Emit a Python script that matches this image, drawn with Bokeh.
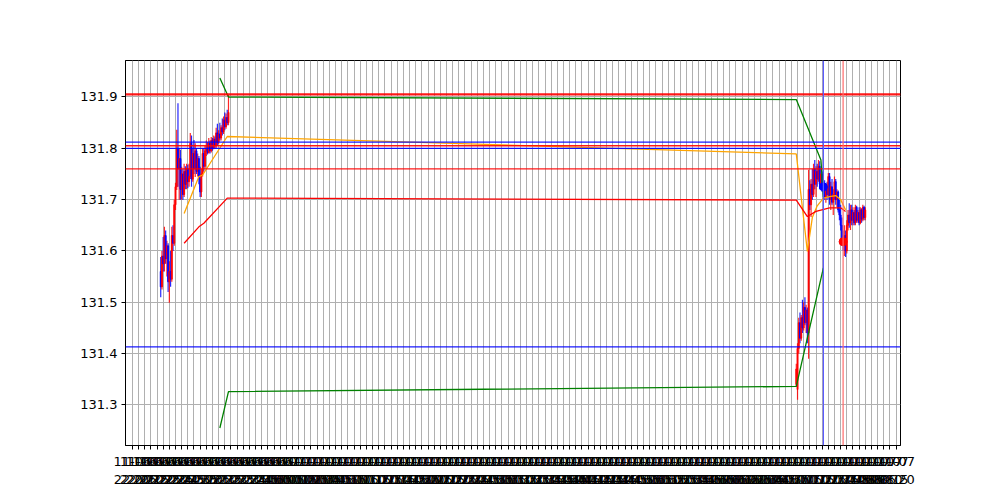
import pandas as pd
from bokeh.plotting import figure
from bokeh.models import FixedTicker, Range1d, Span, ColumnDataSource
from bokeh.embed import file_html
from bokeh.resources import INLINE

# ---- time axis (minutes after the first tick) ----
tick_origin = "2022-11-06 22:00"
tick_step_min = 5
tick_count = 125

# ---- candles: left cluster (minutes 23..78) ----
left_minutes = list(range(23, 79))
left_open = [131.560, 131.530, 131.590, 131.575, 131.630, 131.585, 131.610, 131.540, 131.560, 131.545,
             131.630, 131.615, 131.690, 131.725, 131.800, 131.760, 131.780, 131.720, 131.750, 131.710,
             131.755, 131.730, 131.760, 131.735, 131.745, 131.810, 131.740, 131.790, 131.760, 131.795,
             131.755, 131.780, 131.740, 131.715, 131.750, 131.790, 131.765, 131.795, 131.800, 131.792,
             131.810, 131.795, 131.815, 131.800, 131.818, 131.805, 131.830, 131.812, 131.828, 131.820,
             131.840, 131.832, 131.855, 131.842, 131.860, 131.850]
left_high = [131.588, 131.600, 131.627, 131.647, 131.640, 131.620, 131.615, 131.580, 131.600, 131.647,
             131.650, 131.700, 131.733, 131.836, 131.888, 131.800, 131.797, 131.764, 131.760, 131.770,
             131.765, 131.770, 131.768, 131.770, 131.830, 131.825, 131.800, 131.816, 131.810, 131.800,
             131.790, 131.785, 131.764, 131.760, 131.800, 131.800, 131.805, 131.815, 131.812, 131.820,
             131.815, 131.822, 131.820, 131.825, 131.823, 131.840, 131.848, 131.835, 131.850, 131.845,
             131.858, 131.862, 131.870, 131.868, 131.875, 131.904]
left_low = [131.510, 131.525, 131.560, 131.560, 131.575, 131.550, 131.520, 131.499, 131.530, 131.540,
            131.600, 131.610, 131.680, 131.719, 131.725, 131.700, 131.700, 131.700, 131.700, 131.705,
            131.720, 131.720, 131.722, 131.725, 131.740, 131.725, 131.735, 131.750, 131.744, 131.750,
            131.745, 131.730, 131.705, 131.705, 131.745, 131.755, 131.760, 131.785, 131.788, 131.790,
            131.790, 131.792, 131.795, 131.798, 131.800, 131.800, 131.805, 131.808, 131.815, 131.815,
            131.825, 131.828, 131.835, 131.838, 131.845, 131.845]
left_close = [131.530, 131.590, 131.575, 131.630, 131.585, 131.610, 131.540, 131.560, 131.545, 131.630,
              131.615, 131.690, 131.725, 131.800, 131.760, 131.780, 131.720, 131.750, 131.710, 131.755,
              131.730, 131.760, 131.735, 131.745, 131.810, 131.740, 131.790, 131.760, 131.795, 131.755,
              131.780, 131.740, 131.715, 131.750, 131.790, 131.765, 131.795, 131.800, 131.792, 131.810,
              131.795, 131.815, 131.800, 131.818, 131.805, 131.830, 131.812, 131.828, 131.820, 131.840,
              131.832, 131.855, 131.842, 131.860, 131.850, 131.870]

# ---- candles: right cluster (minutes 539..595) ----
right_minutes = list(range(539, 596))
right_open = [131.340, 131.330, 131.410, 131.460, 131.430, 131.470, 131.450, 131.490, 131.460, 131.485,
              131.440, 131.720, 131.690, 131.730, 131.710, 131.760, 131.730, 131.755, 131.740, 131.765,
              131.730, 131.750, 131.725, 131.720, 131.705, 131.725, 131.710, 131.745, 131.700, 131.725,
              131.695, 131.710, 131.735, 131.700, 131.715, 131.680, 131.670, 131.650, 131.620, 131.615,
              131.630, 131.600, 131.650, 131.670, 131.655, 131.680, 131.660, 131.675, 131.655, 131.685,
              131.660, 131.675, 131.655, 131.680, 131.662, 131.685, 131.665]
right_high = [131.380, 131.420, 131.470, 131.480, 131.475, 131.505, 131.500, 131.510, 131.495, 131.490,
              131.758, 131.738, 131.740, 131.760, 131.770, 131.777, 131.765, 131.770, 131.777, 131.775,
              131.760, 131.755, 131.740, 131.738, 131.730, 131.735, 131.752, 131.752, 131.735, 131.740,
              131.720, 131.745, 131.740, 131.720, 131.718, 131.700, 131.690, 131.665, 131.640, 131.650,
              131.640, 131.660, 131.680, 131.693, 131.690, 131.690, 131.685, 131.680, 131.690, 131.688,
              131.680, 131.685, 131.685, 131.683, 131.690, 131.688, 131.685]
right_low = [131.335, 131.310, 131.400, 131.420, 131.425, 131.440, 131.445, 131.455, 131.440, 131.420,
             131.390, 131.680, 131.666, 131.700, 131.705, 131.720, 131.705, 131.725, 131.735, 131.720,
             131.720, 131.715, 131.710, 131.700, 131.694, 131.700, 131.705, 131.690, 131.680, 131.690,
             131.670, 131.700, 131.690, 131.685, 131.675, 131.660, 131.640, 131.610, 131.600, 131.590,
             131.588, 131.595, 131.640, 131.645, 131.641, 131.650, 131.650, 131.650, 131.650, 131.655,
             131.655, 131.650, 131.652, 131.655, 131.658, 131.660, 131.660]
right_close = [131.370, 131.410, 131.460, 131.430, 131.470, 131.450, 131.490, 131.460, 131.485, 131.440,
               131.720, 131.690, 131.730, 131.710, 131.760, 131.730, 131.755, 131.740, 131.765, 131.730,
               131.750, 131.725, 131.720, 131.705, 131.725, 131.710, 131.745, 131.700, 131.725, 131.695,
               131.710, 131.735, 131.700, 131.715, 131.680, 131.670, 131.650, 131.620, 131.615, 131.630,
               131.600, 131.650, 131.670, 131.655, 131.680, 131.660, 131.675, 131.655, 131.685, 131.660,
               131.675, 131.655, 131.680, 131.662, 131.685, 131.665, 131.680]

# ---- indicator lines ----
upper_band_t = [71, 78, 539, 559, 561]
upper_band_v = [131.937, 131.900, 131.895, 131.777, 131.705]
lower_band_t = [71, 78, 539, 561]
lower_band_v = [131.255, 131.326, 131.336, 131.567]
orange_t = [42, 54, 57, 77, 539, 548, 552, 556, 561, 566, 571, 575, 579]
orange_v = [131.673, 131.745, 131.748, 131.823, 131.789, 131.599, 131.665, 131.688, 131.703, 131.706,
            131.708, 131.700, 131.680]
redline_t = [42, 54, 58, 77, 539, 548, 555, 566, 575, 579]
redline_v = [131.615, 131.647, 131.654, 131.703, 131.699, 131.667, 131.677, 131.684, 131.684, 131.677]

# ---- horizontal levels ----
red_levels = [131.905, 131.805, 131.760]
red_level_widths = [2.2, 1.3, 1.3]
blue_levels = [131.812, 131.800, 131.413]

# ---- marked points ----
blue_mark_t, blue_mark_v = 561, 131.725
red_mark_t, red_mark_v = 577, 131.618

# ---------------------------------------------------------------
times = left_minutes + right_minutes
opens = left_open + right_open
highs = left_high + right_high
lows = left_low + right_low
closes = left_close + right_close
colors = ["red" if c >= o else "blue" for o, c in zip(opens, closes)]
src = ColumnDataSource(dict(
    x=times, h=highs, l=lows,
    top=[max(o, c) for o, c in zip(opens, closes)],
    bottom=[min(o, c) for o, c in zip(opens, closes)],
    color=colors))

all_x = times + upper_band_t + lower_band_t + orange_t + redline_t
all_y = highs + lows + upper_band_v + lower_band_v + orange_v + redline_v
xpad = 0.05 * (max(all_x) - min(all_x))
ypad = 0.05 * (max(all_y) - min(all_y))

p = figure(width=1000, height=500, output_backend="svg", toolbar_location=None,
           x_range=Range1d(min(all_x) - xpad, max(all_x) + xpad),
           y_range=Range1d(min(all_y) - ypad, max(all_y) + ypad),
           min_border_left=125, min_border_right=100, min_border_top=60, min_border_bottom=55)
p.background_fill_color = "white"
p.border_fill_color = "white"
p.outline_line_color = "black"
p.outline_line_width = 1

ticks = [i * tick_step_min for i in range(tick_count)]
origin = pd.Timestamp(tick_origin)
labels = {t: (origin + pd.Timedelta(minutes=t)).strftime("%m-%d\n%H:%M") for t in ticks}
p.xaxis.ticker = FixedTicker(ticks=ticks)
p.xaxis.major_label_overrides = labels
p.yaxis.ticker = FixedTicker(ticks=[131.3, 131.4, 131.5, 131.6, 131.7, 131.8, 131.9])

for ax in (p.xaxis, p.yaxis):
    ax.axis_line_color = "black"
    ax.major_tick_out = 4
    ax.major_tick_in = 0
    ax.minor_tick_out = 0
    ax.minor_tick_in = 0
    ax.major_tick_line_color = "black"
    ax.major_label_text_font = "DejaVu Sans"
    ax.major_label_text_font_size = "13px"
    ax.major_label_text_color = "black"
    ax.major_label_standoff = 4

p.xgrid.grid_line_color = "#b0b0b0"
p.ygrid.grid_line_color = "#b0b0b0"
p.xgrid.grid_line_width = 1
p.ygrid.grid_line_width = 1

p.segment(x0="x", y0="l", x1="x", y1="h", line_color="color", line_width=1.2, line_alpha=0.85, source=src)
p.vbar(x="x", width=0.8, top="top", bottom="bottom", fill_color="color", line_color="color",
       line_width=1, alpha=0.85, source=src)

p.line(upper_band_t, upper_band_v, line_color="green", line_width=1.3)
p.line(lower_band_t, lower_band_v, line_color="green", line_width=1.3)
p.line(orange_t, orange_v, line_color="orange", line_width=1.3)
p.line(redline_t, redline_v, line_color="red", line_width=1.3)

for lv, w in zip(red_levels, red_level_widths):
    p.add_layout(Span(location=lv, dimension="width", line_color="red", line_width=w, line_alpha=0.9))
for lv in blue_levels:
    p.add_layout(Span(location=lv, dimension="width", line_color="blue", line_width=1.3, line_alpha=0.9))

p.add_layout(Span(location=blue_mark_t, dimension="height", line_color="#5a5aff", line_width=1.2))
p.add_layout(Span(location=red_mark_t, dimension="height", line_color="#ff6a6a", line_width=1.2))
p.scatter([blue_mark_t], [blue_mark_v], size=8, color="blue")
p.scatter([red_mark_t], [red_mark_v], size=8, color="red")

open("out.html", "w").write(file_html(p, INLINE))
